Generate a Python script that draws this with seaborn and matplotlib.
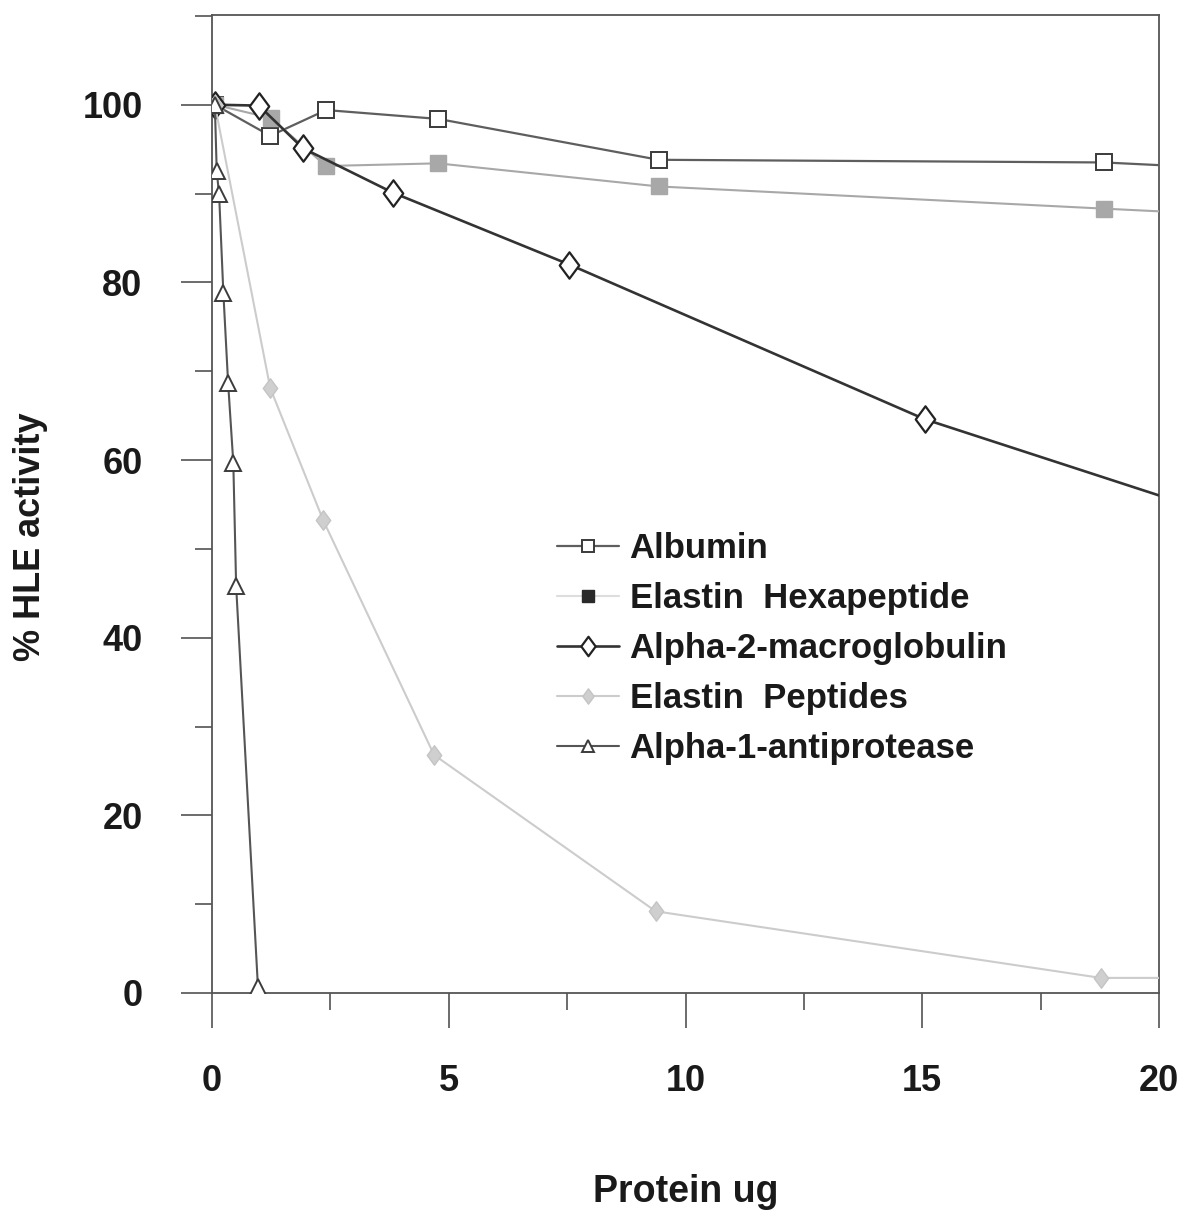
import matplotlib
matplotlib.use("Agg")
import matplotlib.pyplot as plt
from matplotlib import font_manager as fm
from matplotlib.ticker import MultipleLocator
from matplotlib.path import Path
import seaborn as sns
import pandas as pd

# Dose of protein added (ug) and remaining HLE activity (%) for each protein
albumin_x = [0.06, 1.23, 2.41, 4.78, 9.43, 18.84, 37.7]
albumin_y = [100, 96.5, 99.4, 98.4, 93.8, 93.5, 88.6]

hexapeptide_x = [0.06, 1.24, 2.41, 4.77, 9.43, 18.84, 37.7]
hexapeptide_y = [100, 98.5, 93.1, 93.4, 90.8, 88.3, 83.4]

a2m_x = [0.06, 0.99, 1.92, 3.82, 7.55, 15.05, 30.1]
a2m_y = [100, 99.9, 95.1, 90.1, 82.0, 64.6, 38.5]

peptides_x = [0.06, 1.23, 2.35, 4.69, 9.37, 18.77, 37.5]
peptides_y = [100, 68.1, 53.2, 26.8, 9.2, 1.7, 1.7]

a1p_x = [0.06, 0.10, 0.15, 0.24, 0.34, 0.45, 0.51, 0.97]
a1p_y = [100, 92.5, 89.9, 78.8, 68.7, 59.7, 45.8, 0.7]

series_names = ["Albumin", "Elastin  Hexapeptide", "Alpha-2-macroglobulin",
                "Elastin  Peptides", "Alpha-1-antiprotease"]

x_ticks = [0, 5, 10, 15, 20]
y_ticks = [0, 20, 40, 60, 80, 100]

sns.set_theme(style="white")
installed = {f.name for f in fm.fontManager.ttflist}
main_font = "Liberation Sans" if "Liberation Sans" in installed else "DejaVu Sans"
plt.rcParams["font.family"] = [main_font, "DejaVu Sans"]

frames = []
for name, xs, ys in zip(series_names,
                        [albumin_x, hexapeptide_x, a2m_x, peptides_x, a1p_x],
                        [albumin_y, hexapeptide_y, a2m_y, peptides_y, a1p_y]):
    frames.append(pd.DataFrame({"protein": xs, "activity": ys, "series": name}))
data = pd.concat(frames, ignore_index=True)

# slightly tall diamond outline used for the macroglobulin / peptide symbols
tall_diamond = Path([(0, 1), (0.74, 0), (0, -1), (-0.74, 0), (0, 1)],
                    [Path.MOVETO, Path.LINETO, Path.LINETO, Path.LINETO, Path.CLOSEPOLY])

styles = {
    "Albumin": dict(color="#5e5e5e", lw=1.6, marker="s", ms=12, mfc="white",
                    mec="#3a3a3a", mew=1.4, ls="-"),
    "Elastin  Hexapeptide": dict(color="#a8a8a8", lw=1.5, marker="s", ms=12,
                                 mfc="#a8a8a8", mec="#a8a8a8", mew=1.0, ls="-"),
    "Alpha-2-macroglobulin": dict(color="#333333", lw=1.9, marker=tall_diamond, ms=19,
                                  mfc="white", mec="#222222", mew=1.6, ls="-"),
    "Elastin  Peptides": dict(color="#cccccc", lw=1.5, marker=tall_diamond, ms=14,
                              mfc="#cfcfcf", mec="#c4c4c4", mew=1.0, ls="-"),
    "Alpha-1-antiprotease": dict(color="#555555", lw=1.5, marker="^", ms=12,
                                 mfc="white", mec="#3c3c3c", mew=1.4, ls="-"),
}

fig = plt.figure(figsize=(11.79, 12.11), dpi=100)
ax = fig.add_axes([212 / 1179, 1 - 993 / 1211, 947 / 1179, 978 / 1211])

for name in series_names:
    sub = data[data["series"] == name]
    st = styles[name]
    sns.lineplot(data=sub, x="protein", y="activity", ax=ax, sort=False,
                 estimator=None, label=name, color=st["color"], linewidth=st["lw"],
                 linestyle=st["ls"], marker=st["marker"], markersize=st["ms"],
                 markerfacecolor=st["mfc"], markeredgecolor=st["mec"],
                 markeredgewidth=st["mew"], zorder=3)

ax.set_xlim(0, 20)
ax.set_ylim(0, 110.1)
ax.set_xticks(x_ticks)
ax.set_yticks(y_ticks)
ax.xaxis.set_minor_locator(MultipleLocator(2.5))
ax.yaxis.set_minor_locator(MultipleLocator(10))

for side in ["left", "right", "top", "bottom"]:
    ax.spines[side].set_visible(True)
    ax.spines[side].set_color("#555555")
    ax.spines[side].set_linewidth(1.3)

ax.tick_params(axis="both", which="both", direction="out", width=1.1,
               color="#444444", labelcolor="#1a1a1a", left=True, bottom=True)
ax.tick_params(axis="x", which="major", length=25, pad=26)
ax.tick_params(axis="y", which="major", length=22, pad=28)
ax.tick_params(axis="both", which="minor", length=12)

for lbl in ax.get_xticklabels() + ax.get_yticklabels():
    lbl.set_fontweight("bold")
    lbl.set_fontsize(26)

ax.set_xlabel("Protein ug", fontsize=27, fontweight="bold", color="#1a1a1a",
              labelpad=54)
ax.set_ylabel("% HLE activity", fontsize=26, fontweight="bold", color="#1a1a1a")
ax.yaxis.set_label_coords(-0.173, 0.467)
ax.grid(False)

leg = ax.legend(loc="upper left", bbox_to_anchor=(0.364, 0.4714), frameon=False,
                fontsize=25, handlelength=1.8, handletextpad=0.3,
                labelspacing=0.49, borderpad=0, borderaxespad=0)
for txt in leg.get_texts():
    txt.set_fontweight("bold")
    txt.set_color("#1a1a1a")
for h in leg.legend_handles:
    h.set_markersize(9)
leg.legend_handles[2].set_markersize(14)
leg.legend_handles[3].set_markersize(11)
leg.legend_handles[1].set_markerfacecolor("#2a2a2a")
leg.legend_handles[1].set_markeredgecolor("#2a2a2a")
leg.legend_handles[1].set_color("#dddddd")

fig.savefig("out.png", dpi=100, facecolor="white")
